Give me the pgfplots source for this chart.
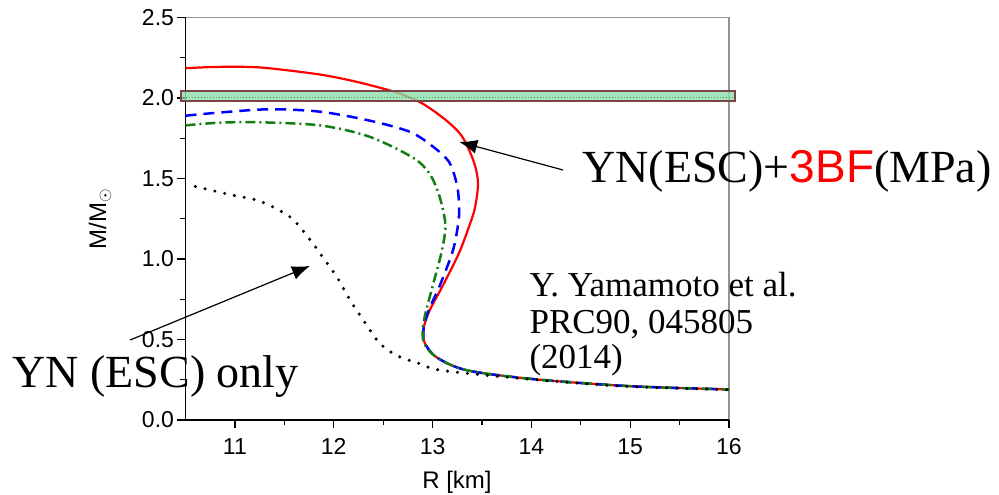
\documentclass[border=0pt]{standalone}
\usepackage{fontspec}
\usepackage{pgfplots}
\pgfplotsset{compat=1.18}
\usetikzlibrary{arrows.meta}
\newfontfamily\sansf{Liberation Sans}
\newfontfamily\seriff{Liberation Serif}
\definecolor{bandfill}{RGB}{140,222,172}
\definecolor{bandedge}{RGB}{120,70,70}
\definecolor{banddot}{RGB}{80,150,100}
\definecolor{cgreen}{RGB}{20,125,20}
\begin{document}
\begin{tikzpicture}
\useasboundingbox (-185.5pt,-75pt) rectangle (813.5pt,420pt);
\begin{axis}[at={(0pt,0pt)}, anchor=south west, scale only axis,
  width=543.5pt, height=402.5pt, xmin=10.5, xmax=16, ymin=0, ymax=2.5,
  xtick=\empty, ytick=\empty, axis line style={draw=gray!85, line width=1.2pt}]
\end{axis}
\begin{axis}[at={(0pt,0pt)}, anchor=south west, scale only axis,
  width=543.5pt, height=402.5pt, xmin=10.5, xmax=16, ymin=0, ymax=2.5,
  axis x line*=bottom, axis y line*=left,
  axis line style={black, line width=1.5pt}, clip=false,
  xtick={11,12,...,16}, ytick={0,0.5,...,2.5},
  minor x tick num=1, minor y tick num=1,
  tick align=outside, major tick length=8pt, minor tick length=5pt,
  tick style={black, line width=1.2pt},
  /pgf/number format/assume math mode=true,
  tick label style={font=\sansf\fontsize{23}{26}\selectfont},
  xticklabel style={yshift=-7pt},
  yticklabel style={/pgf/number format/.cd, fixed, fixed zerofill, precision=1},
]
\addplot[red, line width=2.2pt, smooth, tension=0.5] coordinates {
(10.50,2.185) (10.75,2.192) (11.00,2.194) (11.25,2.19) (11.56,2.17) (11.9,2.142)
(12.2,2.105) (12.46,2.065) (12.67,2.027) (12.9,1.965) (13.14,1.86) (13.3,1.76)
(13.42,1.60) (13.46,1.47) (13.43,1.32) (13.38,1.22) (13.27,1.04) (13.1,0.83)
(12.97,0.68) (12.91,0.57) (12.92,0.48) (13.04,0.39) (13.34,0.31) (14.0,0.255)
(15.0,0.21) (16.0,0.19)};
\addplot[blue, line width=2.5pt, dash pattern=on 11pt off 7pt, smooth, tension=0.5] coordinates {
(10.5,1.89) (10.85,1.91) (11.35,1.93) (11.86,1.915) (12.36,1.86) (12.77,1.79)
(13.0,1.70) (13.17,1.60) (13.25,1.45) (13.27,1.30) (13.25,1.18) (13.2,1.04)
(13.07,0.83) (12.96,0.68) (12.91,0.57) (12.92,0.48) (13.04,0.39) (13.34,0.31)
(14.0,0.255) (15.0,0.21) (16.0,0.19)};
\addplot[cgreen, line width=2.5pt, dash pattern=on 10pt off 4pt on 2pt off 4pt, smooth, tension=0.5] coordinates {
(10.5,1.83) (10.8,1.845) (11.19,1.85) (11.86,1.83) (12.36,1.76) (12.8,1.63)
(12.97,1.53) (13.07,1.39) (13.13,1.21) (13.09,1.04) (13.0,0.83) (12.92,0.64)
(12.9,0.54) (12.92,0.47) (13.04,0.39) (13.34,0.31) (14.0,0.255) (15.0,0.21) (16.0,0.19)};
\addplot[black, line width=3.4pt, line cap=round, dash pattern=on 0pt off 10pt, smooth, tension=0.5] coordinates {
(10.6,1.45) (10.95,1.40) (11.25,1.36) (11.56,1.26) (11.76,1.12) (11.89,1.01)
(12.03,0.89) (12.16,0.75) (12.3,0.62) (12.46,0.48) (12.64,0.40) (12.87,0.35)
(13.07,0.31) (13.68,0.27) (14.35,0.235) (15.0,0.208) (16.0,0.188)};
\addplot[draw=bandedge, line width=2.5pt, fill=bandfill, fill opacity=0.8] coordinates {
(10.455,1.98) (16.06,1.98) (16.06,2.043) (10.455,2.043)} -- cycle;
\addplot[banddot, line width=1pt, dash pattern=on 1pt off 2pt] coordinates {(10.47,2.0) (16.05,2.0)};
\draw[black, line width=1.2pt, -{Latex[length=18pt, width=14pt]}] (axis cs:14.32,1.553) -- (axis cs:13.27,1.727);
\draw[black, line width=1.2pt, -{Latex[length=18pt, width=14pt]}] (axis cs:9.94,0.497) -- (axis cs:11.76,0.957);
\node[anchor=base west, inner sep=0pt] at (axis cs:14.515,1.478)
  {\seriff\fontsize{46}{50}\selectfont YN(ESC)+{\color{red}\sansf 3BF}(MPa)};
\node[anchor=base west, inner sep=0pt] at (axis cs:8.747,0.199)
  {\seriff\fontsize{46}{50}\selectfont YN (ESC) only};
\node[anchor=base west, inner sep=0pt] at (axis cs:13.98,0.764)
  {\seriff\fontsize{35}{38}\selectfont Y. Yamamoto et al.};
\node[anchor=base west, inner sep=0pt] at (axis cs:13.98,0.540)
  {\seriff\fontsize{35}{38}\selectfont PRC90, 045805};
\node[anchor=base west, inner sep=0pt] at (axis cs:13.98,0.317)
  {\seriff\fontsize{35}{38}\selectfont (2014)};
\end{axis}
\node at (271.5pt,-62pt) {\sansf\fontsize{24}{28}\selectfont R [km]};
\node[rotate=90] at (-85.5pt,201pt) {\sansf\fontsize{24}{28}\selectfont M/M$_{\odot}$};
\end{tikzpicture}
\end{document}
